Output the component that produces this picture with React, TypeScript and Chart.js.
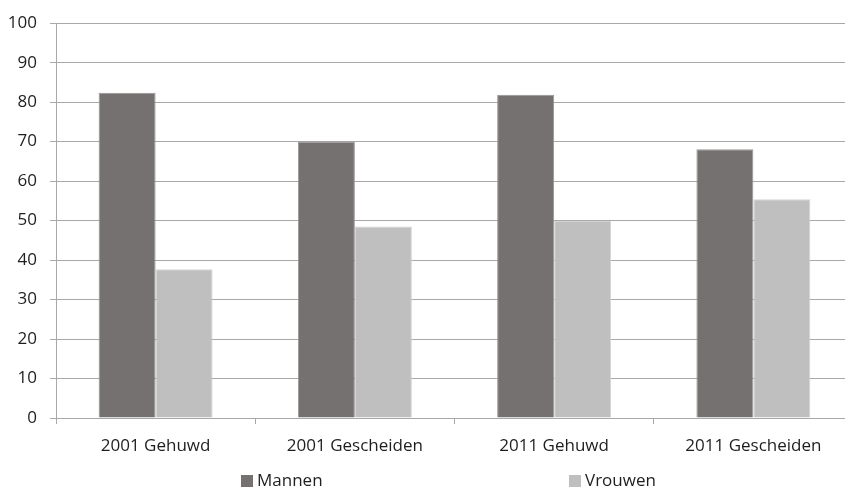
import React, { useEffect, useRef } from "react";
import { Chart, registerables } from "chart.js";

Chart.register(...registerables);

const categories = ["2001 Gehuwd", "2001 Gescheiden", "2011 Gehuwd", "2011 Gescheiden"];
const seriesNames = ["Mannen", "Vrouwen"];
const mannen = [82.4, 70.0, 81.9, 68.1];
const vrouwen = [37.7, 48.5, 49.9, 55.4];
const yTicks = [0, 10, 20, 30, 40, 50, 60, 70, 80, 90, 100];

const FONT = "'Open Sans', 'DejaVu Sans', sans-serif";
const TEXT = "#1e1e1e";
const GRID = "#a8a8a8";
const COLORS = ["#767171", "#bfbfbf"];

// Legend drawn below the axis labels, two widely spaced entries
const bottomLegend = {
  id: "bottomLegend",
  afterDraw(chart: Chart) {
    const ctx = chart.ctx;
    const items = [
      { x: 241, label: seriesNames[0], color: COLORS[0] },
      { x: 569, label: seriesNames[1], color: COLORS[1] },
    ];
    const y = 481;
    ctx.save();
    ctx.font = `17px ${FONT}`;
    ctx.textBaseline = "middle";
    ctx.textAlign = "left";
    for (const it of items) {
      ctx.fillStyle = it.color;
      ctx.fillRect(it.x, y - 6, 12, 12);
      ctx.fillStyle = TEXT;
      ctx.fillText(it.label, it.x + 16, y);
    }
    ctx.restore();
  },
};

export default function App() {
  const canvasRef = useRef<HTMLCanvasElement | null>(null);

  useEffect(() => {
    document.body.style.margin = "0";
    document.body.style.overflow = "hidden";
    const canvas = canvasRef.current;
    if (!canvas) return;
    const chart = new Chart(canvas, {
      type: "bar",
      data: {
        labels: categories,
        datasets: [
          {
            label: seriesNames[0],
            data: mannen,
            backgroundColor: COLORS[0],
            borderColor: "#9a9696",
            borderWidth: 1,
            categoryPercentage: 0.572,
            barPercentage: 1,
          },
          {
            label: seriesNames[1],
            data: vrouwen,
            backgroundColor: COLORS[1],
            borderColor: "#d4d4d4",
            borderWidth: 1,
            categoryPercentage: 0.572,
            barPercentage: 1,
          },
        ],
      },
      options: {
        responsive: false,
        animation: false,
        layout: { padding: { top: 18, left: 0, right: 1, bottom: 0 } },
        plugins: {
          legend: { display: false },
          tooltip: { enabled: false },
        },
        scales: {
          x: {
            afterFit(scale: any) {
              scale.height = 70;
            },
            grid: {
              display: true,
              offset: true,
              drawOnChartArea: false,
              drawTicks: true,
              tickLength: 6,
              color: GRID,
            },
            border: { display: true, color: GRID, width: 1 },
            ticks: {
              color: TEXT,
              padding: 12,
              maxRotation: 0,
              font: { family: FONT, size: 17 },
            },
          },
          y: {
            min: 0,
            max: 100,
            afterFit(scale: any) {
              scale.width = 56;
            },
            afterBuildTicks(scale: any) {
              scale.ticks = yTicks.map((v) => ({ value: v }));
            },
            grid: {
              color: GRID,
              lineWidth: 1,
              drawTicks: true,
              tickLength: 6,
            },
            border: { display: true, color: GRID, width: 1 },
            ticks: {
              color: TEXT,
              padding: 13,
              font: { family: FONT, size: 17 },
            },
          },
        },
      },
      plugins: [bottomLegend],
    });
    return () => chart.destroy();
  }, []);

  return (
    <div style={{ width: 854, height: 488 }}>
      <canvas ref={canvasRef} width={854} height={488} />
    </div>
  );
}
